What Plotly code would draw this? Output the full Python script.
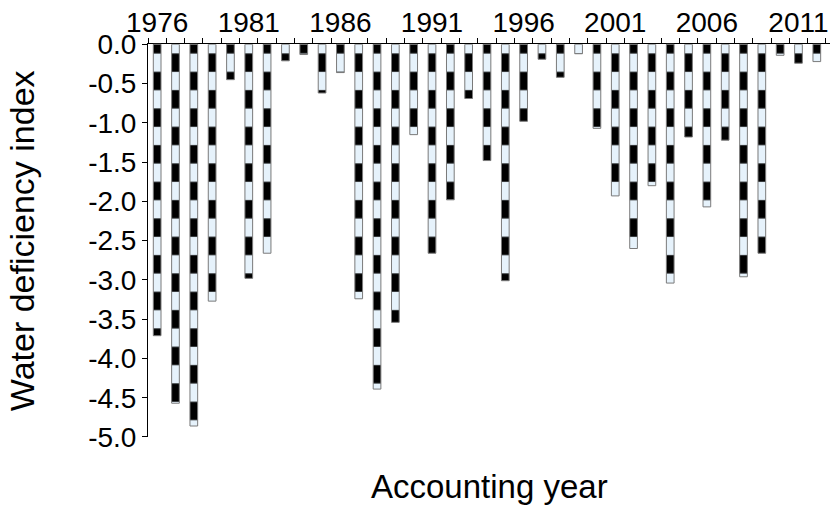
import plotly.graph_objects as go

# Accounting years and water deficiency index values
years = list(range(1976, 2013))
wdi = [-3.71, -4.57, -4.86, -3.27, -0.45, -2.98, -2.66, -0.21, -0.13, -0.62,
       -0.36, -3.24, -4.39, -3.54, -1.15, -2.66, -1.98, -0.69, -1.48, -3.01,
       -0.98, -0.19, -0.42, -0.12, -1.07, -1.93, -2.60, -1.80, -3.04, -1.18,
       -2.07, -1.22, -2.96, -2.66, -0.14, -0.24, -0.22]
label_years = [1976, 1981, 1986, 1991, 1996, 2001, 2006, 2011]
y_ticks = [0.0, -0.5, -1.0, -1.5, -2.0, -2.5, -3.0, -3.5, -4.0, -4.5, -5.0]

FONT = "Liberation Sans, Arial, sans-serif"
W, H = 830, 506
M_L, M_R, M_T = 147.7, 0, 26
PX_PER_UNIT = 78.6          # pixels per index unit on the value axis
STRIPE = 36.66              # stripe period of the bar fill, px
Y_MIN = -5.0
main_h = -Y_MIN * PX_PER_UNIT
plot_h = main_h + STRIPE / 2
M_B = H - M_T - plot_h
main_top = main_h / plot_h

LIGHT = "#e6f2fb"
EDGE = "#7a7a7a"
BAR_W = 0.42


def striped(xs, ys, xa, ya):
    return go.Bar(
        x=xs, y=ys, xaxis=xa, yaxis=ya, width=BAR_W,
        marker=dict(
            color=LIGHT,
            line=dict(color=EDGE, width=1),
            pattern=dict(shape="-", size=STRIPE, solidity=0.5,
                         fgcolor="black", bgcolor=LIGHT, fgopacity=1),
        ),
        showlegend=False, hoverinfo="x+y",
    )


fig = go.Figure()
# alternate bars use a subplot whose origin sits half a stripe higher,
# so their stripes are offset from their neighbours
fig.add_trace(striped(years[0::2], wdi[0::2], "x2", "y2"))
fig.add_trace(striped(years[1::2], wdi[1::2], "x", "y"))

x_range = [1975.5, 2012.72]
boundaries = [y + 0.5 for y in range(1975, 2013)]

fig.update_layout(
    width=W, height=H,
    margin=dict(l=M_L, r=M_R, t=M_T, b=M_B, pad=0),
    paper_bgcolor="white", plot_bgcolor="rgba(0,0,0,0)",
    font=dict(family=FONT, color="black"),
    xaxis=dict(
        range=x_range, domain=[0, 1], anchor="y", side="top",
        showline=True, linecolor="black", linewidth=1,
        showgrid=False, zeroline=False,
        tickmode="array", tickvals=label_years,
        ticktext=[str(v) for v in label_years],
        ticks="", tickfont=dict(size=28, family=FONT),
        minor=dict(tickmode="array", tickvals=boundaries, ticks="outside",
                   ticklen=5, tickwidth=1, tickcolor="black"),
    ),
    yaxis=dict(
        range=[Y_MIN, 0], domain=[0, main_top], anchor="x",
        showline=True, linecolor="black", linewidth=1,
        showgrid=False, zeroline=False,
        tickmode="array", tickvals=y_ticks,
        ticktext=[f"{v:.1f}" for v in y_ticks],
        ticks="outside", ticklen=5, tickwidth=1, tickcolor="black",
        tickfont=dict(size=28, family=FONT),
    ),
    xaxis2=dict(range=x_range, domain=[0, 1], anchor="y2", visible=False),
    yaxis2=dict(range=[Y_MIN, (STRIPE / 2) / PX_PER_UNIT], domain=[0, 1],
                anchor="x2", visible=False),
    annotations=[
        dict(text="Accounting year", xref="paper", yref="paper",
             x=0.5, y=(M_T + plot_h - 487) / plot_h,
             xanchor="center", yanchor="middle", showarrow=False,
             font=dict(size=33, family=FONT)),
        dict(text="Water deficiency index", xref="paper", yref="paper",
             x=(21 - M_L) / (W - M_L - M_R), y=(M_T + plot_h - 241) / plot_h,
             xanchor="center", yanchor="middle", textangle=-90,
             showarrow=False, font=dict(size=34, family=FONT)),
    ],
)

fig.write_html("out.html")
